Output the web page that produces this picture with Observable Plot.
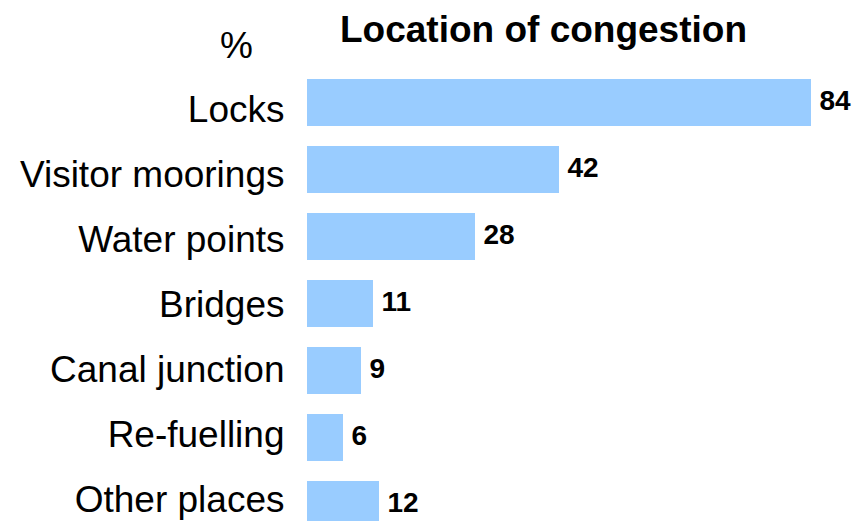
<!DOCTYPE html>
<html>
<head>
<meta charset="utf-8">
<script src="https://cdn.jsdelivr.net/npm/d3@7"></script>
<script src="https://cdn.jsdelivr.net/npm/@observablehq/plot@0.6"></script>
<style>
  html, body { margin: 0; padding: 0; background: #fff; overflow: hidden; }
  body { position: relative; width: 855px; height: 521px; font-family: "Liberation Sans", Arial, sans-serif; }
  #header { position: relative; width: 855px; height: 50px; }
  #title { position: absolute; left: 340px; top: 11px; font-size: 37px; font-weight: bold; line-height: 1; white-space: nowrap; color: #000; }
  #unit { position: absolute; left: 220px; top: 27px; font-size: 37px; line-height: 1; color: #000; }
  #chart svg { display: block; }
  #labels { position: absolute; left: 0; top: 0; }
  #labels svg { display: block; background: transparent; }
</style>
</head>
<body>
<div id="header">
  <div id="unit">%</div>
  <div id="title">Location of congestion</div>
</div>
<div id="chart"></div>
<div id="labels"></div>
<script>
const categories = ["Locks", "Visitor moorings", "Water points", "Bridges", "Canal junction", "Re-fuelling", "Other places"];
const values = [84, 42, 28, 11, 9, 6, 12];

const data = categories.map((c, i) => ({category: c, value: values[i]}));
const font = "'Liberation Sans', Arial, sans-serif";

const chart = Plot.plot({
  width: 855,
  height: 499,
  marginLeft: 307,
  marginRight: 44,
  marginTop: 8,
  marginBottom: 0,
  style: {fontFamily: font, background: "#fff"},
  x: {domain: [0, 84], axis: null},
  y: {domain: categories, padding: 0.3, axis: null},
  marks: [
    Plot.barX(data, {x: "value", y: "category", fill: "#99CCFF"}),
    Plot.text(data, {x: "value", y: "category", text: d => String(d.value), textAnchor: "start", dx: 8, dy: -2, fontSize: 28, fontWeight: "bold", fill: "#000"})
  ]
});
document.getElementById("chart").appendChild(chart);

// Category labels sit on their own, slightly tighter, spacing in the original
const labels = Plot.plot({
  width: 307,
  height: 521,
  marginLeft: 0,
  marginRight: 23,
  marginTop: 109.5,
  marginBottom: 21.5,
  style: {fontFamily: font, background: "transparent"},
  x: {axis: null},
  y: {type: "point", domain: categories, padding: 0, axis: null},
  marks: [
    Plot.text(data, {y: "category", text: "category", frameAnchor: "right", textAnchor: "end", fontSize: 37, fill: "#000"})
  ]
});
document.getElementById("labels").appendChild(labels);
</script>
</body>
</html>
